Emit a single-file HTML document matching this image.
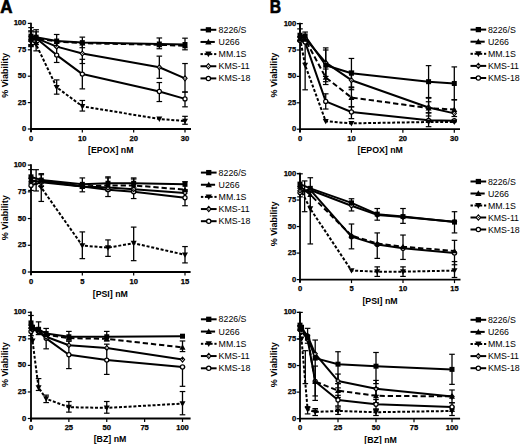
<!DOCTYPE html>
<html><head><meta charset="utf-8"><style>
html,body{margin:0;padding:0;background:#fff;}
svg{display:block;}
text{font-family:"Liberation Sans", sans-serif;fill:#000;}
.tk{font-size:7.6px;font-weight:bold;stroke:#000;stroke-width:0.25px;}
.ti{font-size:8.8px;font-weight:bold;}
.yl{font-size:9px;font-weight:bold;}
.lg{font-size:8.8px;}
.pl{font-size:16px;font-weight:bold;stroke:#000;stroke-width:0.6px;}
</style></head><body>
<svg width="520" height="444" viewBox="0 0 520 444">
<rect width="520" height="444" fill="#fff"/>
<text transform="translate(0.2,12.7) scale(1.06,1.1)" class="pl">A</text>
<text transform="translate(269.7,12.7) scale(0.98,1.1)" class="pl">B</text>
<line x1="31.00" y1="22.65" x2="31.00" y2="132.00" stroke="#000" stroke-width="1.8"/>
<line x1="30.25" y1="129.00" x2="191.00" y2="129.00" stroke="#000" stroke-width="1.8"/>
<line x1="27.80" y1="129.00" x2="31.00" y2="129.00" stroke="#000" stroke-width="1.2"/>
<text x="26.30" y="131.00" text-anchor="end" class="tk">0</text>
<line x1="27.80" y1="102.60" x2="31.00" y2="102.60" stroke="#000" stroke-width="1.2"/>
<text x="26.30" y="104.60" text-anchor="end" class="tk">25</text>
<line x1="27.80" y1="76.20" x2="31.00" y2="76.20" stroke="#000" stroke-width="1.2"/>
<text x="26.30" y="78.20" text-anchor="end" class="tk">50</text>
<line x1="27.80" y1="49.80" x2="31.00" y2="49.80" stroke="#000" stroke-width="1.2"/>
<text x="26.30" y="51.80" text-anchor="end" class="tk">75</text>
<line x1="27.80" y1="23.40" x2="31.00" y2="23.40" stroke="#000" stroke-width="1.2"/>
<text x="26.30" y="25.40" text-anchor="end" class="tk">100</text>
<line x1="31.00" y1="129.00" x2="31.00" y2="132.50" stroke="#000" stroke-width="1.2"/>
<text x="31.00" y="140.50" text-anchor="middle" class="tk">0</text>
<line x1="82.33" y1="129.00" x2="82.33" y2="132.50" stroke="#000" stroke-width="1.2"/>
<text x="82.33" y="140.50" text-anchor="middle" class="tk">10</text>
<line x1="133.67" y1="129.00" x2="133.67" y2="132.50" stroke="#000" stroke-width="1.2"/>
<text x="133.67" y="140.50" text-anchor="middle" class="tk">20</text>
<line x1="185.00" y1="129.00" x2="185.00" y2="132.50" stroke="#000" stroke-width="1.2"/>
<text x="185.00" y="140.50" text-anchor="middle" class="tk">30</text>
<text x="110.75" y="153.00" text-anchor="middle" class="ti">[EPOX] nM</text>
<text transform="translate(8.00,75.40) rotate(-90)" text-anchor="middle" class="yl">% Viability</text>
<line x1="31.00" y1="27.62" x2="31.00" y2="44.52" stroke="#000" stroke-width="1.3"/>
<line x1="28.20" y1="27.62" x2="33.80" y2="27.62" stroke="#000" stroke-width="1.2"/>
<line x1="28.20" y1="44.52" x2="33.80" y2="44.52" stroke="#000" stroke-width="1.2"/>
<line x1="36.13" y1="29.74" x2="36.13" y2="42.41" stroke="#000" stroke-width="1.3"/>
<line x1="33.33" y1="29.74" x2="38.93" y2="29.74" stroke="#000" stroke-width="1.2"/>
<line x1="33.33" y1="42.41" x2="38.93" y2="42.41" stroke="#000" stroke-width="1.2"/>
<line x1="56.67" y1="34.49" x2="56.67" y2="46.63" stroke="#000" stroke-width="1.3"/>
<line x1="53.87" y1="34.49" x2="59.47" y2="34.49" stroke="#000" stroke-width="1.2"/>
<line x1="53.87" y1="46.63" x2="59.47" y2="46.63" stroke="#000" stroke-width="1.2"/>
<line x1="82.33" y1="37.13" x2="82.33" y2="47.69" stroke="#000" stroke-width="1.3"/>
<line x1="79.53" y1="37.13" x2="85.13" y2="37.13" stroke="#000" stroke-width="1.2"/>
<line x1="79.53" y1="47.69" x2="85.13" y2="47.69" stroke="#000" stroke-width="1.2"/>
<line x1="159.33" y1="37.97" x2="159.33" y2="48.74" stroke="#000" stroke-width="1.3"/>
<line x1="156.53" y1="37.97" x2="162.13" y2="37.97" stroke="#000" stroke-width="1.2"/>
<line x1="156.53" y1="48.74" x2="162.13" y2="48.74" stroke="#000" stroke-width="1.2"/>
<line x1="185.00" y1="38.18" x2="185.00" y2="49.80" stroke="#000" stroke-width="1.3"/>
<line x1="182.20" y1="38.18" x2="187.80" y2="38.18" stroke="#000" stroke-width="1.2"/>
<line x1="182.20" y1="49.80" x2="187.80" y2="49.80" stroke="#000" stroke-width="1.2"/>
<line x1="31.00" y1="31.85" x2="31.00" y2="46.63" stroke="#000" stroke-width="1.3"/>
<line x1="28.20" y1="31.85" x2="33.80" y2="31.85" stroke="#000" stroke-width="1.2"/>
<line x1="28.20" y1="46.63" x2="33.80" y2="46.63" stroke="#000" stroke-width="1.2"/>
<line x1="36.13" y1="31.85" x2="36.13" y2="44.52" stroke="#000" stroke-width="1.3"/>
<line x1="33.33" y1="31.85" x2="38.93" y2="31.85" stroke="#000" stroke-width="1.2"/>
<line x1="33.33" y1="44.52" x2="38.93" y2="44.52" stroke="#000" stroke-width="1.2"/>
<line x1="31.00" y1="30.79" x2="31.00" y2="45.58" stroke="#000" stroke-width="1.3"/>
<line x1="28.20" y1="30.79" x2="33.80" y2="30.79" stroke="#000" stroke-width="1.2"/>
<line x1="28.20" y1="45.58" x2="33.80" y2="45.58" stroke="#000" stroke-width="1.2"/>
<line x1="36.13" y1="38.18" x2="36.13" y2="50.86" stroke="#000" stroke-width="1.3"/>
<line x1="33.33" y1="38.18" x2="38.93" y2="38.18" stroke="#000" stroke-width="1.2"/>
<line x1="33.33" y1="50.86" x2="38.93" y2="50.86" stroke="#000" stroke-width="1.2"/>
<line x1="56.67" y1="79.90" x2="56.67" y2="94.15" stroke="#000" stroke-width="1.3"/>
<line x1="53.87" y1="79.90" x2="59.47" y2="79.90" stroke="#000" stroke-width="1.2"/>
<line x1="53.87" y1="94.15" x2="59.47" y2="94.15" stroke="#000" stroke-width="1.2"/>
<line x1="82.33" y1="100.49" x2="82.33" y2="111.05" stroke="#000" stroke-width="1.3"/>
<line x1="79.53" y1="100.49" x2="85.13" y2="100.49" stroke="#000" stroke-width="1.2"/>
<line x1="79.53" y1="111.05" x2="85.13" y2="111.05" stroke="#000" stroke-width="1.2"/>
<line x1="185.00" y1="116.33" x2="185.00" y2="124.25" stroke="#000" stroke-width="1.3"/>
<line x1="182.20" y1="116.33" x2="187.80" y2="116.33" stroke="#000" stroke-width="1.2"/>
<line x1="182.20" y1="124.25" x2="187.80" y2="124.25" stroke="#000" stroke-width="1.2"/>
<line x1="82.33" y1="43.46" x2="82.33" y2="63.53" stroke="#000" stroke-width="1.3"/>
<line x1="79.53" y1="43.46" x2="85.13" y2="43.46" stroke="#000" stroke-width="1.2"/>
<line x1="79.53" y1="63.53" x2="85.13" y2="63.53" stroke="#000" stroke-width="1.2"/>
<line x1="159.33" y1="56.14" x2="159.33" y2="78.31" stroke="#000" stroke-width="1.3"/>
<line x1="156.53" y1="56.14" x2="162.13" y2="56.14" stroke="#000" stroke-width="1.2"/>
<line x1="156.53" y1="78.31" x2="162.13" y2="78.31" stroke="#000" stroke-width="1.2"/>
<line x1="185.00" y1="63.53" x2="185.00" y2="92.04" stroke="#000" stroke-width="1.3"/>
<line x1="182.20" y1="63.53" x2="187.80" y2="63.53" stroke="#000" stroke-width="1.2"/>
<line x1="182.20" y1="92.04" x2="187.80" y2="92.04" stroke="#000" stroke-width="1.2"/>
<line x1="56.67" y1="46.63" x2="56.67" y2="62.47" stroke="#000" stroke-width="1.3"/>
<line x1="53.87" y1="46.63" x2="59.47" y2="46.63" stroke="#000" stroke-width="1.2"/>
<line x1="53.87" y1="62.47" x2="59.47" y2="62.47" stroke="#000" stroke-width="1.2"/>
<line x1="82.33" y1="59.30" x2="82.33" y2="88.87" stroke="#000" stroke-width="1.3"/>
<line x1="79.53" y1="59.30" x2="85.13" y2="59.30" stroke="#000" stroke-width="1.2"/>
<line x1="79.53" y1="88.87" x2="85.13" y2="88.87" stroke="#000" stroke-width="1.2"/>
<line x1="159.33" y1="82.54" x2="159.33" y2="101.54" stroke="#000" stroke-width="1.3"/>
<line x1="156.53" y1="82.54" x2="162.13" y2="82.54" stroke="#000" stroke-width="1.2"/>
<line x1="156.53" y1="101.54" x2="162.13" y2="101.54" stroke="#000" stroke-width="1.2"/>
<line x1="185.00" y1="92.04" x2="185.00" y2="106.82" stroke="#000" stroke-width="1.3"/>
<line x1="182.20" y1="92.04" x2="187.80" y2="92.04" stroke="#000" stroke-width="1.2"/>
<line x1="182.20" y1="106.82" x2="187.80" y2="106.82" stroke="#000" stroke-width="1.2"/>
<polyline points="31.00,36.07 36.13,37.13 56.67,41.04 82.33,42.62 159.33,43.99 185.00,44.52" fill="none" stroke="#000" stroke-width="2.0" stroke-linejoin="round"/>
<polyline points="31.00,39.24 36.13,38.18 56.67,41.56 82.33,43.15 159.33,44.84 185.00,45.79" fill="none" stroke="#000" stroke-width="2.0" stroke-dasharray="5.3,2.9" stroke-linejoin="round"/>
<polyline points="31.00,38.18 36.13,44.52 56.67,87.29 82.33,106.30 159.33,118.97 185.00,121.08" fill="none" stroke="#000" stroke-width="2.0" stroke-dasharray="3,1.8" stroke-linejoin="round"/>
<polyline points="31.00,39.24 36.13,38.18 56.67,46.63 82.33,53.50 159.33,67.22 185.00,78.31" fill="none" stroke="#000" stroke-width="2.0" stroke-linejoin="round"/>
<polyline points="31.00,40.30 36.13,38.18 56.67,55.08 82.33,74.09 159.33,91.51 185.00,98.90" fill="none" stroke="#000" stroke-width="2.0" stroke-linejoin="round"/>
<circle cx="31.00" cy="40.30" r="2.05" fill="#fff" stroke="#000" stroke-width="1.25"/>
<circle cx="36.13" cy="38.18" r="2.05" fill="#fff" stroke="#000" stroke-width="1.25"/>
<circle cx="56.67" cy="55.08" r="2.05" fill="#fff" stroke="#000" stroke-width="1.25"/>
<circle cx="82.33" cy="74.09" r="2.05" fill="#fff" stroke="#000" stroke-width="1.25"/>
<circle cx="159.33" cy="91.51" r="2.05" fill="#fff" stroke="#000" stroke-width="1.25"/>
<circle cx="185.00" cy="98.90" r="2.05" fill="#fff" stroke="#000" stroke-width="1.25"/>
<polygon points="31.00,36.79 33.08,39.24 31.00,41.69 28.92,39.24" fill="#fff" stroke="#000" stroke-width="1.15"/><circle cx="31.00" cy="39.24" r="0.6" fill="#000"/>
<polygon points="36.13,35.73 38.22,38.18 36.13,40.63 34.05,38.18" fill="#fff" stroke="#000" stroke-width="1.15"/><circle cx="36.13" cy="38.18" r="0.6" fill="#000"/>
<polygon points="56.67,44.18 58.75,46.63 56.67,49.08 54.58,46.63" fill="#fff" stroke="#000" stroke-width="1.15"/><circle cx="56.67" cy="46.63" r="0.6" fill="#000"/>
<polygon points="82.33,51.05 84.42,53.50 82.33,55.95 80.25,53.50" fill="#fff" stroke="#000" stroke-width="1.15"/><circle cx="82.33" cy="53.50" r="0.6" fill="#000"/>
<polygon points="159.33,64.77 161.42,67.22 159.33,69.67 157.25,67.22" fill="#fff" stroke="#000" stroke-width="1.15"/><circle cx="159.33" cy="67.22" r="0.6" fill="#000"/>
<polygon points="185.00,75.86 187.08,78.31 185.00,80.76 182.92,78.31" fill="#fff" stroke="#000" stroke-width="1.15"/><circle cx="185.00" cy="78.31" r="0.6" fill="#000"/>
<polygon points="31.00,41.18 34.00,35.78 28.00,35.78" fill="#000"/>
<polygon points="36.13,47.52 39.13,42.12 33.13,42.12" fill="#000"/>
<polygon points="56.67,90.29 59.67,84.89 53.67,84.89" fill="#000"/>
<polygon points="82.33,109.30 85.33,103.90 79.33,103.90" fill="#000"/>
<polygon points="159.33,121.97 162.33,116.57 156.33,116.57" fill="#000"/>
<polygon points="185.00,124.08 188.00,118.68 182.00,118.68" fill="#000"/>
<polygon points="31.00,36.24 34.00,41.64 28.00,41.64" fill="#000"/>
<polygon points="36.13,35.18 39.13,40.58 33.13,40.58" fill="#000"/>
<polygon points="56.67,38.56 59.67,43.96 53.67,43.96" fill="#000"/>
<polygon points="82.33,40.15 85.33,45.55 79.33,45.55" fill="#000"/>
<polygon points="159.33,41.84 162.33,47.24 156.33,47.24" fill="#000"/>
<polygon points="185.00,42.79 188.00,48.19 182.00,48.19" fill="#000"/>
<rect x="28.50" y="33.57" width="5.00" height="5.00" fill="#000"/>
<rect x="33.63" y="34.63" width="5.00" height="5.00" fill="#000"/>
<rect x="54.17" y="38.54" width="5.00" height="5.00" fill="#000"/>
<rect x="79.83" y="40.12" width="5.00" height="5.00" fill="#000"/>
<rect x="156.83" y="41.49" width="5.00" height="5.00" fill="#000"/>
<rect x="182.50" y="42.02" width="5.00" height="5.00" fill="#000"/>
<line x1="200.50" y1="29.80" x2="216.30" y2="29.80" stroke="#000" stroke-width="2.0"/>
<rect x="205.78" y="27.18" width="5.25" height="5.25" fill="#000"/>
<text x="218.60" y="32.80" class="lg">8226/S</text>
<line x1="200.50" y1="41.95" x2="214.80" y2="41.95" stroke="#000" stroke-width="2.0"/>
<polygon points="208.40,38.80 211.55,44.47 205.25,44.47" fill="#000"/>
<text x="218.60" y="44.95" class="lg">U266</text>
<line x1="200.50" y1="54.10" x2="202.90" y2="54.10" stroke="#000" stroke-width="2.0"/>
<line x1="204.50" y1="54.10" x2="212.30" y2="54.10" stroke="#000" stroke-width="2.0"/>
<line x1="214.10" y1="54.10" x2="216.30" y2="54.10" stroke="#000" stroke-width="2.0"/>
<polygon points="208.40,57.25 211.55,51.58 205.25,51.58" fill="#000"/>
<text x="218.60" y="57.10" class="lg">MM.1S</text>
<line x1="200.50" y1="66.25" x2="216.30" y2="66.25" stroke="#000" stroke-width="2.0"/>
<polygon points="208.40,63.68 210.59,66.25 208.40,68.82 206.21,66.25" fill="#fff" stroke="#000" stroke-width="1.15"/><circle cx="208.40" cy="66.25" r="0.6" fill="#000"/>
<text x="218.60" y="69.25" class="lg">KMS-11</text>
<line x1="200.50" y1="78.40" x2="216.30" y2="78.40" stroke="#000" stroke-width="2.0"/>
<circle cx="208.40" cy="78.40" r="2.15" fill="#fff" stroke="#000" stroke-width="1.25"/>
<text x="218.60" y="81.40" class="lg">KMS-18</text>
<line x1="31.00" y1="164.35" x2="31.00" y2="275.00" stroke="#000" stroke-width="1.8"/>
<line x1="30.25" y1="272.00" x2="190.60" y2="272.00" stroke="#000" stroke-width="1.8"/>
<line x1="27.80" y1="272.00" x2="31.00" y2="272.00" stroke="#000" stroke-width="1.2"/>
<text x="26.30" y="274.00" text-anchor="end" class="tk">0</text>
<line x1="27.80" y1="245.28" x2="31.00" y2="245.28" stroke="#000" stroke-width="1.2"/>
<text x="26.30" y="247.28" text-anchor="end" class="tk">25</text>
<line x1="27.80" y1="218.55" x2="31.00" y2="218.55" stroke="#000" stroke-width="1.2"/>
<text x="26.30" y="220.55" text-anchor="end" class="tk">50</text>
<line x1="27.80" y1="191.82" x2="31.00" y2="191.82" stroke="#000" stroke-width="1.2"/>
<text x="26.30" y="193.82" text-anchor="end" class="tk">75</text>
<line x1="27.80" y1="165.10" x2="31.00" y2="165.10" stroke="#000" stroke-width="1.2"/>
<text x="26.30" y="167.10" text-anchor="end" class="tk">100</text>
<line x1="31.00" y1="272.00" x2="31.00" y2="275.50" stroke="#000" stroke-width="1.2"/>
<text x="31.00" y="283.50" text-anchor="middle" class="tk">0</text>
<line x1="82.33" y1="272.00" x2="82.33" y2="275.50" stroke="#000" stroke-width="1.2"/>
<text x="82.33" y="283.50" text-anchor="middle" class="tk">5</text>
<line x1="133.67" y1="272.00" x2="133.67" y2="275.50" stroke="#000" stroke-width="1.2"/>
<text x="133.67" y="283.50" text-anchor="middle" class="tk">10</text>
<line x1="185.00" y1="272.00" x2="185.00" y2="275.50" stroke="#000" stroke-width="1.2"/>
<text x="185.00" y="283.50" text-anchor="middle" class="tk">15</text>
<text x="110.30" y="296.50" text-anchor="middle" class="ti">[PSI] nM</text>
<text transform="translate(8.00,217.75) rotate(-90)" text-anchor="middle" class="yl">% Viability</text>
<line x1="31.00" y1="169.59" x2="31.00" y2="190.44" stroke="#000" stroke-width="1.3"/>
<line x1="28.20" y1="169.59" x2="33.80" y2="169.59" stroke="#000" stroke-width="1.2"/>
<line x1="28.20" y1="190.44" x2="33.80" y2="190.44" stroke="#000" stroke-width="1.2"/>
<line x1="41.27" y1="173.65" x2="41.27" y2="186.48" stroke="#000" stroke-width="1.3"/>
<line x1="38.47" y1="173.65" x2="44.07" y2="173.65" stroke="#000" stroke-width="1.2"/>
<line x1="38.47" y1="186.48" x2="44.07" y2="186.48" stroke="#000" stroke-width="1.2"/>
<line x1="82.33" y1="177.93" x2="82.33" y2="191.82" stroke="#000" stroke-width="1.3"/>
<line x1="79.53" y1="177.93" x2="85.13" y2="177.93" stroke="#000" stroke-width="1.2"/>
<line x1="79.53" y1="191.82" x2="85.13" y2="191.82" stroke="#000" stroke-width="1.2"/>
<line x1="108.00" y1="176.86" x2="108.00" y2="190.76" stroke="#000" stroke-width="1.3"/>
<line x1="105.20" y1="176.86" x2="110.80" y2="176.86" stroke="#000" stroke-width="1.2"/>
<line x1="105.20" y1="190.76" x2="110.80" y2="190.76" stroke="#000" stroke-width="1.2"/>
<line x1="133.67" y1="177.93" x2="133.67" y2="190.76" stroke="#000" stroke-width="1.3"/>
<line x1="130.87" y1="177.93" x2="136.47" y2="177.93" stroke="#000" stroke-width="1.2"/>
<line x1="130.87" y1="190.76" x2="136.47" y2="190.76" stroke="#000" stroke-width="1.2"/>
<line x1="185.00" y1="181.67" x2="185.00" y2="189.69" stroke="#000" stroke-width="1.3"/>
<line x1="182.20" y1="181.67" x2="187.80" y2="181.67" stroke="#000" stroke-width="1.2"/>
<line x1="182.20" y1="189.69" x2="187.80" y2="189.69" stroke="#000" stroke-width="1.2"/>
<line x1="41.27" y1="174.72" x2="41.27" y2="201.45" stroke="#000" stroke-width="1.3"/>
<line x1="38.47" y1="174.72" x2="44.07" y2="174.72" stroke="#000" stroke-width="1.2"/>
<line x1="38.47" y1="201.45" x2="44.07" y2="201.45" stroke="#000" stroke-width="1.2"/>
<line x1="82.33" y1="231.91" x2="82.33" y2="258.64" stroke="#000" stroke-width="1.3"/>
<line x1="79.53" y1="231.91" x2="85.13" y2="231.91" stroke="#000" stroke-width="1.2"/>
<line x1="79.53" y1="258.64" x2="85.13" y2="258.64" stroke="#000" stroke-width="1.2"/>
<line x1="108.00" y1="239.93" x2="108.00" y2="256.39" stroke="#000" stroke-width="1.3"/>
<line x1="105.20" y1="239.93" x2="110.80" y2="239.93" stroke="#000" stroke-width="1.2"/>
<line x1="105.20" y1="256.39" x2="110.80" y2="256.39" stroke="#000" stroke-width="1.2"/>
<line x1="133.67" y1="227.10" x2="133.67" y2="260.67" stroke="#000" stroke-width="1.3"/>
<line x1="130.87" y1="227.10" x2="136.47" y2="227.10" stroke="#000" stroke-width="1.2"/>
<line x1="130.87" y1="260.67" x2="136.47" y2="260.67" stroke="#000" stroke-width="1.2"/>
<line x1="185.00" y1="246.56" x2="185.00" y2="262.91" stroke="#000" stroke-width="1.3"/>
<line x1="182.20" y1="246.56" x2="187.80" y2="246.56" stroke="#000" stroke-width="1.2"/>
<line x1="182.20" y1="262.91" x2="187.80" y2="262.91" stroke="#000" stroke-width="1.2"/>
<line x1="108.00" y1="177.93" x2="108.00" y2="196.53" stroke="#000" stroke-width="1.3"/>
<line x1="105.20" y1="177.93" x2="110.80" y2="177.93" stroke="#000" stroke-width="1.2"/>
<line x1="105.20" y1="196.53" x2="110.80" y2="196.53" stroke="#000" stroke-width="1.2"/>
<line x1="133.67" y1="179.00" x2="133.67" y2="198.56" stroke="#000" stroke-width="1.3"/>
<line x1="130.87" y1="179.00" x2="136.47" y2="179.00" stroke="#000" stroke-width="1.2"/>
<line x1="130.87" y1="198.56" x2="136.47" y2="198.56" stroke="#000" stroke-width="1.2"/>
<line x1="185.00" y1="190.76" x2="185.00" y2="205.72" stroke="#000" stroke-width="1.3"/>
<line x1="182.20" y1="190.76" x2="187.80" y2="190.76" stroke="#000" stroke-width="1.2"/>
<line x1="182.20" y1="205.72" x2="187.80" y2="205.72" stroke="#000" stroke-width="1.2"/>
<line x1="36.13" y1="169.70" x2="36.13" y2="190.97" stroke="#000" stroke-width="1.3"/>
<line x1="33.33" y1="169.70" x2="38.93" y2="169.70" stroke="#000" stroke-width="1.2"/>
<line x1="33.33" y1="190.97" x2="38.93" y2="190.97" stroke="#000" stroke-width="1.2"/>
<polyline points="31.00,176.86 41.27,180.07 82.33,184.34 108.00,183.27 133.67,183.27 185.00,184.34" fill="none" stroke="#000" stroke-width="2.0" stroke-linejoin="round"/>
<polyline points="31.00,181.13 41.27,180.07 82.33,186.48 108.00,185.41 133.67,185.41 185.00,189.69" fill="none" stroke="#000" stroke-width="2.0" stroke-dasharray="5.3,2.9" stroke-linejoin="round"/>
<polyline points="31.00,180.07 41.27,187.55 82.33,245.60 108.00,247.63 133.67,243.24 185.00,254.79" fill="none" stroke="#000" stroke-width="2.0" stroke-dasharray="3,1.8" stroke-linejoin="round"/>
<polyline points="31.00,181.13 41.27,181.13 82.33,186.48 108.00,187.55 133.67,189.15 185.00,192.89" fill="none" stroke="#000" stroke-width="2.0" stroke-linejoin="round"/>
<polyline points="31.00,185.41 41.27,182.20 82.33,186.48 108.00,189.69 133.67,191.82 185.00,197.70" fill="none" stroke="#000" stroke-width="2.0" stroke-linejoin="round"/>
<circle cx="31.00" cy="185.41" r="2.05" fill="#fff" stroke="#000" stroke-width="1.25"/>
<circle cx="41.27" cy="182.20" r="2.05" fill="#fff" stroke="#000" stroke-width="1.25"/>
<circle cx="82.33" cy="186.48" r="2.05" fill="#fff" stroke="#000" stroke-width="1.25"/>
<circle cx="108.00" cy="189.69" r="2.05" fill="#fff" stroke="#000" stroke-width="1.25"/>
<circle cx="133.67" cy="191.82" r="2.05" fill="#fff" stroke="#000" stroke-width="1.25"/>
<circle cx="185.00" cy="197.70" r="2.05" fill="#fff" stroke="#000" stroke-width="1.25"/>
<polygon points="31.00,178.69 33.08,181.13 31.00,183.58 28.92,181.13" fill="#fff" stroke="#000" stroke-width="1.15"/><circle cx="31.00" cy="181.13" r="0.6" fill="#000"/>
<polygon points="41.27,178.69 43.35,181.13 41.27,183.58 39.18,181.13" fill="#fff" stroke="#000" stroke-width="1.15"/><circle cx="41.27" cy="181.13" r="0.6" fill="#000"/>
<polygon points="82.33,184.03 84.42,186.48 82.33,188.93 80.25,186.48" fill="#fff" stroke="#000" stroke-width="1.15"/><circle cx="82.33" cy="186.48" r="0.6" fill="#000"/>
<polygon points="108.00,185.10 110.08,187.55 108.00,190.00 105.92,187.55" fill="#fff" stroke="#000" stroke-width="1.15"/><circle cx="108.00" cy="187.55" r="0.6" fill="#000"/>
<polygon points="133.67,186.70 135.75,189.15 133.67,191.60 131.58,189.15" fill="#fff" stroke="#000" stroke-width="1.15"/><circle cx="133.67" cy="189.15" r="0.6" fill="#000"/>
<polygon points="185.00,190.44 187.08,192.89 185.00,195.34 182.92,192.89" fill="#fff" stroke="#000" stroke-width="1.15"/><circle cx="185.00" cy="192.89" r="0.6" fill="#000"/>
<polygon points="31.00,183.07 34.00,177.67 28.00,177.67" fill="#000"/>
<polygon points="41.27,190.55 44.27,185.15 38.27,185.15" fill="#000"/>
<polygon points="82.33,248.60 85.33,243.20 79.33,243.20" fill="#000"/>
<polygon points="108.00,250.63 111.00,245.23 105.00,245.23" fill="#000"/>
<polygon points="133.67,246.24 136.67,240.84 130.67,240.84" fill="#000"/>
<polygon points="185.00,257.79 188.00,252.39 182.00,252.39" fill="#000"/>
<polygon points="31.00,178.13 34.00,183.53 28.00,183.53" fill="#000"/>
<polygon points="41.27,177.07 44.27,182.47 38.27,182.47" fill="#000"/>
<polygon points="82.33,183.48 85.33,188.88 79.33,188.88" fill="#000"/>
<polygon points="108.00,182.41 111.00,187.81 105.00,187.81" fill="#000"/>
<polygon points="133.67,182.41 136.67,187.81 130.67,187.81" fill="#000"/>
<polygon points="185.00,186.69 188.00,192.09 182.00,192.09" fill="#000"/>
<rect x="28.50" y="174.36" width="5.00" height="5.00" fill="#000"/>
<rect x="38.77" y="177.57" width="5.00" height="5.00" fill="#000"/>
<rect x="79.83" y="181.84" width="5.00" height="5.00" fill="#000"/>
<rect x="105.50" y="180.77" width="5.00" height="5.00" fill="#000"/>
<rect x="131.17" y="180.77" width="5.00" height="5.00" fill="#000"/>
<rect x="182.50" y="181.84" width="5.00" height="5.00" fill="#000"/>
<line x1="200.90" y1="172.60" x2="216.60" y2="172.60" stroke="#000" stroke-width="2.0"/>
<rect x="206.12" y="169.97" width="5.25" height="5.25" fill="#000"/>
<text x="218.60" y="175.60" class="lg">8226/S</text>
<line x1="200.90" y1="184.75" x2="215.10" y2="184.75" stroke="#000" stroke-width="2.0"/>
<polygon points="208.75,181.60 211.90,187.27 205.60,187.27" fill="#000"/>
<text x="218.60" y="187.75" class="lg">U266</text>
<line x1="200.90" y1="196.90" x2="203.30" y2="196.90" stroke="#000" stroke-width="2.0"/>
<line x1="204.90" y1="196.90" x2="212.60" y2="196.90" stroke="#000" stroke-width="2.0"/>
<line x1="214.40" y1="196.90" x2="216.60" y2="196.90" stroke="#000" stroke-width="2.0"/>
<polygon points="208.75,200.05 211.90,194.38 205.60,194.38" fill="#000"/>
<text x="218.60" y="199.90" class="lg">MM.1S</text>
<line x1="200.90" y1="209.05" x2="216.60" y2="209.05" stroke="#000" stroke-width="2.0"/>
<polygon points="208.75,206.48 210.94,209.05 208.75,211.62 206.56,209.05" fill="#fff" stroke="#000" stroke-width="1.15"/><circle cx="208.75" cy="209.05" r="0.6" fill="#000"/>
<text x="218.60" y="212.05" class="lg">KMS-11</text>
<line x1="200.90" y1="221.20" x2="216.60" y2="221.20" stroke="#000" stroke-width="2.0"/>
<circle cx="208.75" cy="221.20" r="2.15" fill="#fff" stroke="#000" stroke-width="1.25"/>
<text x="218.60" y="224.20" class="lg">KMS-18</text>
<line x1="31.00" y1="311.55" x2="31.00" y2="421.50" stroke="#000" stroke-width="1.8"/>
<line x1="30.25" y1="418.50" x2="190.60" y2="418.50" stroke="#000" stroke-width="1.8"/>
<line x1="27.80" y1="418.50" x2="31.00" y2="418.50" stroke="#000" stroke-width="1.2"/>
<text x="26.30" y="420.50" text-anchor="end" class="tk">0</text>
<line x1="27.80" y1="391.95" x2="31.00" y2="391.95" stroke="#000" stroke-width="1.2"/>
<text x="26.30" y="393.95" text-anchor="end" class="tk">25</text>
<line x1="27.80" y1="365.40" x2="31.00" y2="365.40" stroke="#000" stroke-width="1.2"/>
<text x="26.30" y="367.40" text-anchor="end" class="tk">50</text>
<line x1="27.80" y1="338.85" x2="31.00" y2="338.85" stroke="#000" stroke-width="1.2"/>
<text x="26.30" y="340.85" text-anchor="end" class="tk">75</text>
<line x1="27.80" y1="312.30" x2="31.00" y2="312.30" stroke="#000" stroke-width="1.2"/>
<text x="26.30" y="314.30" text-anchor="end" class="tk">100</text>
<line x1="31.00" y1="418.50" x2="31.00" y2="422.00" stroke="#000" stroke-width="1.2"/>
<text x="31.00" y="430.00" text-anchor="middle" class="tk">0</text>
<line x1="68.88" y1="418.50" x2="68.88" y2="422.00" stroke="#000" stroke-width="1.2"/>
<text x="68.88" y="430.00" text-anchor="middle" class="tk">25</text>
<line x1="106.75" y1="418.50" x2="106.75" y2="422.00" stroke="#000" stroke-width="1.2"/>
<text x="106.75" y="430.00" text-anchor="middle" class="tk">50</text>
<line x1="144.62" y1="418.50" x2="144.62" y2="422.00" stroke="#000" stroke-width="1.2"/>
<text x="144.62" y="430.00" text-anchor="middle" class="tk">75</text>
<line x1="182.50" y1="418.50" x2="182.50" y2="422.00" stroke="#000" stroke-width="1.2"/>
<text x="182.50" y="430.00" text-anchor="middle" class="tk">100</text>
<text x="110.00" y="442.00" text-anchor="middle" class="ti">[BZ] nM</text>
<text transform="translate(8.00,364.60) rotate(-90)" text-anchor="middle" class="yl">% Viability</text>
<line x1="31.00" y1="315.49" x2="31.00" y2="335.66" stroke="#000" stroke-width="1.3"/>
<line x1="28.20" y1="315.49" x2="33.80" y2="315.49" stroke="#000" stroke-width="1.2"/>
<line x1="28.20" y1="335.66" x2="33.80" y2="335.66" stroke="#000" stroke-width="1.2"/>
<line x1="38.58" y1="321.86" x2="38.58" y2="334.60" stroke="#000" stroke-width="1.3"/>
<line x1="35.78" y1="321.86" x2="41.38" y2="321.86" stroke="#000" stroke-width="1.2"/>
<line x1="35.78" y1="334.60" x2="41.38" y2="334.60" stroke="#000" stroke-width="1.2"/>
<line x1="68.88" y1="331.42" x2="68.88" y2="339.91" stroke="#000" stroke-width="1.3"/>
<line x1="66.08" y1="331.42" x2="71.67" y2="331.42" stroke="#000" stroke-width="1.2"/>
<line x1="66.08" y1="339.91" x2="71.67" y2="339.91" stroke="#000" stroke-width="1.2"/>
<line x1="106.75" y1="331.42" x2="106.75" y2="340.97" stroke="#000" stroke-width="1.3"/>
<line x1="103.95" y1="331.42" x2="109.55" y2="331.42" stroke="#000" stroke-width="1.2"/>
<line x1="103.95" y1="340.97" x2="109.55" y2="340.97" stroke="#000" stroke-width="1.2"/>
<line x1="182.50" y1="340.97" x2="182.50" y2="351.59" stroke="#000" stroke-width="1.3"/>
<line x1="179.70" y1="340.97" x2="185.30" y2="340.97" stroke="#000" stroke-width="1.2"/>
<line x1="179.70" y1="351.59" x2="185.30" y2="351.59" stroke="#000" stroke-width="1.2"/>
<line x1="38.58" y1="378.57" x2="38.58" y2="390.46" stroke="#000" stroke-width="1.3"/>
<line x1="35.78" y1="378.57" x2="41.38" y2="378.57" stroke="#000" stroke-width="1.2"/>
<line x1="35.78" y1="390.46" x2="41.38" y2="390.46" stroke="#000" stroke-width="1.2"/>
<line x1="46.15" y1="395.14" x2="46.15" y2="402.57" stroke="#000" stroke-width="1.3"/>
<line x1="43.35" y1="395.14" x2="48.95" y2="395.14" stroke="#000" stroke-width="1.2"/>
<line x1="43.35" y1="402.57" x2="48.95" y2="402.57" stroke="#000" stroke-width="1.2"/>
<line x1="68.88" y1="401.51" x2="68.88" y2="412.13" stroke="#000" stroke-width="1.3"/>
<line x1="66.08" y1="401.51" x2="71.67" y2="401.51" stroke="#000" stroke-width="1.2"/>
<line x1="66.08" y1="412.13" x2="71.67" y2="412.13" stroke="#000" stroke-width="1.2"/>
<line x1="106.75" y1="401.51" x2="106.75" y2="413.19" stroke="#000" stroke-width="1.3"/>
<line x1="103.95" y1="401.51" x2="109.55" y2="401.51" stroke="#000" stroke-width="1.2"/>
<line x1="103.95" y1="413.19" x2="109.55" y2="413.19" stroke="#000" stroke-width="1.2"/>
<line x1="182.50" y1="391.53" x2="182.50" y2="414.78" stroke="#000" stroke-width="1.3"/>
<line x1="179.70" y1="391.53" x2="185.30" y2="391.53" stroke="#000" stroke-width="1.2"/>
<line x1="179.70" y1="414.78" x2="185.30" y2="414.78" stroke="#000" stroke-width="1.2"/>
<line x1="46.15" y1="328.44" x2="46.15" y2="348.83" stroke="#000" stroke-width="1.3"/>
<line x1="43.35" y1="328.44" x2="48.95" y2="328.44" stroke="#000" stroke-width="1.2"/>
<line x1="43.35" y1="348.83" x2="48.95" y2="348.83" stroke="#000" stroke-width="1.2"/>
<line x1="68.88" y1="341.29" x2="68.88" y2="368.59" stroke="#000" stroke-width="1.3"/>
<line x1="66.08" y1="341.29" x2="71.67" y2="341.29" stroke="#000" stroke-width="1.2"/>
<line x1="66.08" y1="368.59" x2="71.67" y2="368.59" stroke="#000" stroke-width="1.2"/>
<line x1="106.75" y1="344.16" x2="106.75" y2="374.43" stroke="#000" stroke-width="1.3"/>
<line x1="103.95" y1="344.16" x2="109.55" y2="344.16" stroke="#000" stroke-width="1.2"/>
<line x1="103.95" y1="374.43" x2="109.55" y2="374.43" stroke="#000" stroke-width="1.2"/>
<line x1="182.50" y1="366.99" x2="182.50" y2="386.32" stroke="#000" stroke-width="1.3"/>
<line x1="179.70" y1="366.99" x2="185.30" y2="366.99" stroke="#000" stroke-width="1.2"/>
<line x1="179.70" y1="386.32" x2="185.30" y2="386.32" stroke="#000" stroke-width="1.2"/>
<polyline points="31.00,322.92 32.52,327.17 38.58,329.29 46.15,333.54 68.88,336.73 106.75,336.73 182.50,336.19" fill="none" stroke="#000" stroke-width="2.0" stroke-linejoin="round"/>
<polyline points="31.00,326.11 32.52,328.23 38.58,330.35 46.15,334.60 68.88,338.11 106.75,338.85 182.50,347.35" fill="none" stroke="#000" stroke-width="2.0" stroke-dasharray="5.3,2.9" stroke-linejoin="round"/>
<polyline points="31.00,327.17 32.52,340.97 38.58,387.70 46.15,398.75 68.88,407.24 106.75,407.88 182.50,403.63" fill="none" stroke="#000" stroke-width="2.0" stroke-dasharray="3,1.8" stroke-linejoin="round"/>
<polyline points="31.00,328.23 32.52,329.29 38.58,331.42 46.15,336.73 68.88,345.22 106.75,347.98 182.50,359.56" fill="none" stroke="#000" stroke-width="2.0" stroke-linejoin="round"/>
<polyline points="31.00,331.42 32.52,329.29 38.58,331.42 46.15,338.32 68.88,354.78 106.75,360.09 182.50,366.99" fill="none" stroke="#000" stroke-width="2.0" stroke-linejoin="round"/>
<circle cx="31.00" cy="331.42" r="2.05" fill="#fff" stroke="#000" stroke-width="1.25"/>
<circle cx="32.52" cy="329.29" r="2.05" fill="#fff" stroke="#000" stroke-width="1.25"/>
<circle cx="38.58" cy="331.42" r="2.05" fill="#fff" stroke="#000" stroke-width="1.25"/>
<circle cx="46.15" cy="338.32" r="2.05" fill="#fff" stroke="#000" stroke-width="1.25"/>
<circle cx="68.88" cy="354.78" r="2.05" fill="#fff" stroke="#000" stroke-width="1.25"/>
<circle cx="106.75" cy="360.09" r="2.05" fill="#fff" stroke="#000" stroke-width="1.25"/>
<circle cx="182.50" cy="366.99" r="2.05" fill="#fff" stroke="#000" stroke-width="1.25"/>
<polygon points="31.00,325.78 33.08,328.23 31.00,330.68 28.92,328.23" fill="#fff" stroke="#000" stroke-width="1.15"/><circle cx="31.00" cy="328.23" r="0.6" fill="#000"/>
<polygon points="32.52,326.84 34.60,329.29 32.52,331.74 30.43,329.29" fill="#fff" stroke="#000" stroke-width="1.15"/><circle cx="32.52" cy="329.29" r="0.6" fill="#000"/>
<polygon points="38.58,328.97 40.66,331.42 38.58,333.87 36.49,331.42" fill="#fff" stroke="#000" stroke-width="1.15"/><circle cx="38.58" cy="331.42" r="0.6" fill="#000"/>
<polygon points="46.15,334.28 48.23,336.73 46.15,339.18 44.07,336.73" fill="#fff" stroke="#000" stroke-width="1.15"/><circle cx="46.15" cy="336.73" r="0.6" fill="#000"/>
<polygon points="68.88,342.77 70.96,345.22 68.88,347.67 66.79,345.22" fill="#fff" stroke="#000" stroke-width="1.15"/><circle cx="68.88" cy="345.22" r="0.6" fill="#000"/>
<polygon points="106.75,345.53 108.83,347.98 106.75,350.43 104.67,347.98" fill="#fff" stroke="#000" stroke-width="1.15"/><circle cx="106.75" cy="347.98" r="0.6" fill="#000"/>
<polygon points="182.50,357.11 184.58,359.56 182.50,362.01 180.42,359.56" fill="#fff" stroke="#000" stroke-width="1.15"/><circle cx="182.50" cy="359.56" r="0.6" fill="#000"/>
<polygon points="31.00,330.17 34.00,324.77 28.00,324.77" fill="#000"/>
<polygon points="32.52,343.97 35.52,338.57 29.52,338.57" fill="#000"/>
<polygon points="38.58,390.70 41.58,385.30 35.58,385.30" fill="#000"/>
<polygon points="46.15,401.75 49.15,396.35 43.15,396.35" fill="#000"/>
<polygon points="68.88,410.24 71.88,404.84 65.88,404.84" fill="#000"/>
<polygon points="106.75,410.88 109.75,405.48 103.75,405.48" fill="#000"/>
<polygon points="182.50,406.63 185.50,401.23 179.50,401.23" fill="#000"/>
<polygon points="31.00,323.11 34.00,328.51 28.00,328.51" fill="#000"/>
<polygon points="32.52,325.23 35.52,330.63 29.52,330.63" fill="#000"/>
<polygon points="38.58,327.35 41.58,332.75 35.58,332.75" fill="#000"/>
<polygon points="46.15,331.60 49.15,337.00 43.15,337.00" fill="#000"/>
<polygon points="68.88,335.11 71.88,340.51 65.88,340.51" fill="#000"/>
<polygon points="106.75,335.85 109.75,341.25 103.75,341.25" fill="#000"/>
<polygon points="182.50,344.35 185.50,349.75 179.50,349.75" fill="#000"/>
<rect x="28.50" y="320.42" width="5.00" height="5.00" fill="#000"/>
<rect x="30.02" y="324.67" width="5.00" height="5.00" fill="#000"/>
<rect x="36.08" y="326.79" width="5.00" height="5.00" fill="#000"/>
<rect x="43.65" y="331.04" width="5.00" height="5.00" fill="#000"/>
<rect x="66.38" y="334.23" width="5.00" height="5.00" fill="#000"/>
<rect x="104.25" y="334.23" width="5.00" height="5.00" fill="#000"/>
<rect x="180.00" y="333.69" width="5.00" height="5.00" fill="#000"/>
<line x1="200.90" y1="319.30" x2="216.60" y2="319.30" stroke="#000" stroke-width="2.0"/>
<rect x="206.12" y="316.68" width="5.25" height="5.25" fill="#000"/>
<text x="218.60" y="322.30" class="lg">8226/S</text>
<line x1="200.90" y1="331.55" x2="215.10" y2="331.55" stroke="#000" stroke-width="2.0"/>
<polygon points="208.75,328.40 211.90,334.07 205.60,334.07" fill="#000"/>
<text x="218.60" y="334.55" class="lg">U266</text>
<line x1="200.90" y1="343.80" x2="203.30" y2="343.80" stroke="#000" stroke-width="2.0"/>
<line x1="204.90" y1="343.80" x2="212.60" y2="343.80" stroke="#000" stroke-width="2.0"/>
<line x1="214.40" y1="343.80" x2="216.60" y2="343.80" stroke="#000" stroke-width="2.0"/>
<polygon points="208.75,346.95 211.90,341.28 205.60,341.28" fill="#000"/>
<text x="218.60" y="346.80" class="lg">MM.1S</text>
<line x1="200.90" y1="356.05" x2="216.60" y2="356.05" stroke="#000" stroke-width="2.0"/>
<polygon points="208.75,353.48 210.94,356.05 208.75,358.62 206.56,356.05" fill="#fff" stroke="#000" stroke-width="1.15"/><circle cx="208.75" cy="356.05" r="0.6" fill="#000"/>
<text x="218.60" y="359.05" class="lg">KMS-11</text>
<line x1="200.90" y1="368.30" x2="216.60" y2="368.30" stroke="#000" stroke-width="2.0"/>
<circle cx="208.75" cy="368.30" r="2.15" fill="#fff" stroke="#000" stroke-width="1.25"/>
<text x="218.60" y="371.30" class="lg">KMS-18</text>
<line x1="300.00" y1="22.85" x2="300.00" y2="132.20" stroke="#000" stroke-width="1.8"/>
<line x1="299.25" y1="129.20" x2="460.00" y2="129.20" stroke="#000" stroke-width="1.8"/>
<line x1="296.80" y1="129.20" x2="300.00" y2="129.20" stroke="#000" stroke-width="1.2"/>
<text x="296.30" y="131.20" text-anchor="end" class="tk">0</text>
<line x1="296.80" y1="102.80" x2="300.00" y2="102.80" stroke="#000" stroke-width="1.2"/>
<text x="296.30" y="104.80" text-anchor="end" class="tk">25</text>
<line x1="296.80" y1="76.40" x2="300.00" y2="76.40" stroke="#000" stroke-width="1.2"/>
<text x="296.30" y="78.40" text-anchor="end" class="tk">50</text>
<line x1="296.80" y1="50.00" x2="300.00" y2="50.00" stroke="#000" stroke-width="1.2"/>
<text x="296.30" y="52.00" text-anchor="end" class="tk">75</text>
<line x1="296.80" y1="23.60" x2="300.00" y2="23.60" stroke="#000" stroke-width="1.2"/>
<text x="296.30" y="25.60" text-anchor="end" class="tk">100</text>
<line x1="300.00" y1="129.20" x2="300.00" y2="132.70" stroke="#000" stroke-width="1.2"/>
<text x="300.00" y="140.70" text-anchor="middle" class="tk">0</text>
<line x1="351.43" y1="129.20" x2="351.43" y2="132.70" stroke="#000" stroke-width="1.2"/>
<text x="351.43" y="140.70" text-anchor="middle" class="tk">10</text>
<line x1="402.87" y1="129.20" x2="402.87" y2="132.70" stroke="#000" stroke-width="1.2"/>
<text x="402.87" y="140.70" text-anchor="middle" class="tk">20</text>
<line x1="454.30" y1="129.20" x2="454.30" y2="132.70" stroke="#000" stroke-width="1.2"/>
<text x="454.30" y="140.70" text-anchor="middle" class="tk">30</text>
<text x="380.20" y="153.20" text-anchor="middle" class="ti">[EPOX] nM</text>
<text transform="translate(277.20,75.10) rotate(-90)" text-anchor="middle" class="yl">% Viability</text>
<line x1="300.00" y1="28.88" x2="300.00" y2="40.50" stroke="#000" stroke-width="1.3"/>
<line x1="297.20" y1="28.88" x2="302.80" y2="28.88" stroke="#000" stroke-width="1.2"/>
<line x1="297.20" y1="40.50" x2="302.80" y2="40.50" stroke="#000" stroke-width="1.2"/>
<line x1="305.14" y1="32.05" x2="305.14" y2="40.50" stroke="#000" stroke-width="1.3"/>
<line x1="302.34" y1="32.05" x2="307.94" y2="32.05" stroke="#000" stroke-width="1.2"/>
<line x1="302.34" y1="40.50" x2="307.94" y2="40.50" stroke="#000" stroke-width="1.2"/>
<line x1="325.72" y1="47.89" x2="325.72" y2="81.68" stroke="#000" stroke-width="1.3"/>
<line x1="322.92" y1="47.89" x2="328.52" y2="47.89" stroke="#000" stroke-width="1.2"/>
<line x1="322.92" y1="81.68" x2="328.52" y2="81.68" stroke="#000" stroke-width="1.2"/>
<line x1="351.43" y1="58.45" x2="351.43" y2="86.96" stroke="#000" stroke-width="1.3"/>
<line x1="348.63" y1="58.45" x2="354.23" y2="58.45" stroke="#000" stroke-width="1.2"/>
<line x1="348.63" y1="86.96" x2="354.23" y2="86.96" stroke="#000" stroke-width="1.2"/>
<line x1="428.58" y1="65.63" x2="428.58" y2="97.52" stroke="#000" stroke-width="1.3"/>
<line x1="425.78" y1="65.63" x2="431.38" y2="65.63" stroke="#000" stroke-width="1.2"/>
<line x1="425.78" y1="97.52" x2="431.38" y2="97.52" stroke="#000" stroke-width="1.2"/>
<line x1="454.30" y1="66.90" x2="454.30" y2="99.63" stroke="#000" stroke-width="1.3"/>
<line x1="451.50" y1="66.90" x2="457.10" y2="66.90" stroke="#000" stroke-width="1.2"/>
<line x1="451.50" y1="99.63" x2="457.10" y2="99.63" stroke="#000" stroke-width="1.2"/>
<line x1="325.72" y1="69.01" x2="325.72" y2="84.53" stroke="#000" stroke-width="1.3"/>
<line x1="322.92" y1="69.01" x2="328.52" y2="69.01" stroke="#000" stroke-width="1.2"/>
<line x1="322.92" y1="84.53" x2="328.52" y2="84.53" stroke="#000" stroke-width="1.2"/>
<line x1="351.43" y1="87.70" x2="351.43" y2="106.81" stroke="#000" stroke-width="1.3"/>
<line x1="348.63" y1="87.70" x2="354.23" y2="87.70" stroke="#000" stroke-width="1.2"/>
<line x1="348.63" y1="106.81" x2="354.23" y2="106.81" stroke="#000" stroke-width="1.2"/>
<line x1="428.58" y1="98.15" x2="428.58" y2="116.00" stroke="#000" stroke-width="1.3"/>
<line x1="425.78" y1="98.15" x2="431.38" y2="98.15" stroke="#000" stroke-width="1.2"/>
<line x1="425.78" y1="116.00" x2="431.38" y2="116.00" stroke="#000" stroke-width="1.2"/>
<line x1="454.30" y1="99.95" x2="454.30" y2="116.53" stroke="#000" stroke-width="1.3"/>
<line x1="451.50" y1="99.95" x2="457.10" y2="99.95" stroke="#000" stroke-width="1.2"/>
<line x1="451.50" y1="116.53" x2="457.10" y2="116.53" stroke="#000" stroke-width="1.2"/>
<line x1="305.14" y1="41.97" x2="305.14" y2="89.81" stroke="#000" stroke-width="1.3"/>
<line x1="302.34" y1="41.97" x2="307.94" y2="41.97" stroke="#000" stroke-width="1.2"/>
<line x1="302.34" y1="89.81" x2="307.94" y2="89.81" stroke="#000" stroke-width="1.2"/>
<line x1="325.72" y1="50.00" x2="325.72" y2="76.40" stroke="#000" stroke-width="1.3"/>
<line x1="322.92" y1="50.00" x2="328.52" y2="50.00" stroke="#000" stroke-width="1.2"/>
<line x1="322.92" y1="76.40" x2="328.52" y2="76.40" stroke="#000" stroke-width="1.2"/>
<line x1="351.43" y1="71.12" x2="351.43" y2="89.71" stroke="#000" stroke-width="1.3"/>
<line x1="348.63" y1="71.12" x2="354.23" y2="71.12" stroke="#000" stroke-width="1.2"/>
<line x1="348.63" y1="89.71" x2="354.23" y2="89.71" stroke="#000" stroke-width="1.2"/>
<line x1="428.58" y1="101.74" x2="428.58" y2="112.83" stroke="#000" stroke-width="1.3"/>
<line x1="425.78" y1="101.74" x2="431.38" y2="101.74" stroke="#000" stroke-width="1.2"/>
<line x1="425.78" y1="112.83" x2="431.38" y2="112.83" stroke="#000" stroke-width="1.2"/>
<line x1="325.72" y1="93.82" x2="325.72" y2="109.03" stroke="#000" stroke-width="1.3"/>
<line x1="322.92" y1="93.82" x2="328.52" y2="93.82" stroke="#000" stroke-width="1.2"/>
<line x1="322.92" y1="109.03" x2="328.52" y2="109.03" stroke="#000" stroke-width="1.2"/>
<line x1="351.43" y1="106.81" x2="351.43" y2="118.64" stroke="#000" stroke-width="1.3"/>
<line x1="348.63" y1="106.81" x2="354.23" y2="106.81" stroke="#000" stroke-width="1.2"/>
<line x1="348.63" y1="118.64" x2="354.23" y2="118.64" stroke="#000" stroke-width="1.2"/>
<line x1="428.58" y1="112.83" x2="428.58" y2="126.67" stroke="#000" stroke-width="1.3"/>
<line x1="425.78" y1="112.83" x2="431.38" y2="112.83" stroke="#000" stroke-width="1.2"/>
<line x1="425.78" y1="126.67" x2="431.38" y2="126.67" stroke="#000" stroke-width="1.2"/>
<line x1="300.00" y1="23.60" x2="300.00" y2="40.50" stroke="#000" stroke-width="1.3"/>
<line x1="297.20" y1="23.60" x2="302.80" y2="23.60" stroke="#000" stroke-width="1.2"/>
<line x1="297.20" y1="40.50" x2="302.80" y2="40.50" stroke="#000" stroke-width="1.2"/>
<polyline points="300.00,35.22 305.14,35.96 325.72,65.21 351.43,73.23 428.58,81.68 454.30,83.48" fill="none" stroke="#000" stroke-width="2.0" stroke-linejoin="round"/>
<polyline points="300.00,39.44 305.14,39.44 325.72,77.46 351.43,97.52 428.58,108.08 454.30,109.56" fill="none" stroke="#000" stroke-width="2.0" stroke-dasharray="5.3,2.9" stroke-linejoin="round"/>
<polyline points="300.00,38.38 305.14,65.21 325.72,121.28 351.43,123.39 428.58,122.02 454.30,122.02" fill="none" stroke="#000" stroke-width="2.0" stroke-dasharray="3,1.8" stroke-linejoin="round"/>
<polyline points="300.00,37.33 305.14,38.38 325.72,62.67 351.43,80.20 428.58,107.45 454.30,113.36" fill="none" stroke="#000" stroke-width="2.0" stroke-linejoin="round"/>
<polyline points="300.00,40.50 305.14,42.08 325.72,101.43 351.43,111.99 428.58,120.33 454.30,120.75" fill="none" stroke="#000" stroke-width="2.0" stroke-linejoin="round"/>
<circle cx="300.00" cy="40.50" r="2.05" fill="#fff" stroke="#000" stroke-width="1.25"/>
<circle cx="305.14" cy="42.08" r="2.05" fill="#fff" stroke="#000" stroke-width="1.25"/>
<circle cx="325.72" cy="101.43" r="2.05" fill="#fff" stroke="#000" stroke-width="1.25"/>
<circle cx="351.43" cy="111.99" r="2.05" fill="#fff" stroke="#000" stroke-width="1.25"/>
<circle cx="428.58" cy="120.33" r="2.05" fill="#fff" stroke="#000" stroke-width="1.25"/>
<circle cx="454.30" cy="120.75" r="2.05" fill="#fff" stroke="#000" stroke-width="1.25"/>
<polygon points="300.00,34.88 302.08,37.33 300.00,39.78 297.92,37.33" fill="#fff" stroke="#000" stroke-width="1.15"/><circle cx="300.00" cy="37.33" r="0.6" fill="#000"/>
<polygon points="305.14,35.93 307.23,38.38 305.14,40.83 303.06,38.38" fill="#fff" stroke="#000" stroke-width="1.15"/><circle cx="305.14" cy="38.38" r="0.6" fill="#000"/>
<polygon points="325.72,60.22 327.80,62.67 325.72,65.12 323.63,62.67" fill="#fff" stroke="#000" stroke-width="1.15"/><circle cx="325.72" cy="62.67" r="0.6" fill="#000"/>
<polygon points="351.43,77.75 353.52,80.20 351.43,82.65 349.35,80.20" fill="#fff" stroke="#000" stroke-width="1.15"/><circle cx="351.43" cy="80.20" r="0.6" fill="#000"/>
<polygon points="428.58,105.00 430.67,107.45 428.58,109.90 426.50,107.45" fill="#fff" stroke="#000" stroke-width="1.15"/><circle cx="428.58" cy="107.45" r="0.6" fill="#000"/>
<polygon points="454.30,110.91 456.38,113.36 454.30,115.81 452.22,113.36" fill="#fff" stroke="#000" stroke-width="1.15"/><circle cx="454.30" cy="113.36" r="0.6" fill="#000"/>
<polygon points="300.00,41.38 303.00,35.98 297.00,35.98" fill="#000"/>
<polygon points="305.14,68.21 308.14,62.81 302.14,62.81" fill="#000"/>
<polygon points="325.72,124.28 328.72,118.88 322.72,118.88" fill="#000"/>
<polygon points="351.43,126.39 354.43,120.99 348.43,120.99" fill="#000"/>
<polygon points="428.58,125.02 431.58,119.62 425.58,119.62" fill="#000"/>
<polygon points="454.30,125.02 457.30,119.62 451.30,119.62" fill="#000"/>
<polygon points="300.00,36.44 303.00,41.84 297.00,41.84" fill="#000"/>
<polygon points="305.14,36.44 308.14,41.84 302.14,41.84" fill="#000"/>
<polygon points="325.72,74.46 328.72,79.86 322.72,79.86" fill="#000"/>
<polygon points="351.43,94.52 354.43,99.92 348.43,99.92" fill="#000"/>
<polygon points="428.58,105.08 431.58,110.48 425.58,110.48" fill="#000"/>
<polygon points="454.30,106.56 457.30,111.96 451.30,111.96" fill="#000"/>
<rect x="297.50" y="32.72" width="5.00" height="5.00" fill="#000"/>
<rect x="302.64" y="33.46" width="5.00" height="5.00" fill="#000"/>
<rect x="323.22" y="62.71" width="5.00" height="5.00" fill="#000"/>
<rect x="348.93" y="70.73" width="5.00" height="5.00" fill="#000"/>
<rect x="426.08" y="79.18" width="5.00" height="5.00" fill="#000"/>
<rect x="451.80" y="80.98" width="5.00" height="5.00" fill="#000"/>
<line x1="470.50" y1="29.60" x2="486.20" y2="29.60" stroke="#000" stroke-width="2.0"/>
<rect x="475.73" y="26.98" width="5.25" height="5.25" fill="#000"/>
<text x="487.90" y="32.60" class="lg">8226/S</text>
<line x1="470.50" y1="41.70" x2="484.70" y2="41.70" stroke="#000" stroke-width="2.0"/>
<polygon points="478.35,38.55 481.50,44.22 475.20,44.22" fill="#000"/>
<text x="487.90" y="44.70" class="lg">U266</text>
<line x1="470.50" y1="53.80" x2="472.90" y2="53.80" stroke="#000" stroke-width="2.0"/>
<line x1="474.50" y1="53.80" x2="482.20" y2="53.80" stroke="#000" stroke-width="2.0"/>
<line x1="484.00" y1="53.80" x2="486.20" y2="53.80" stroke="#000" stroke-width="2.0"/>
<polygon points="478.35,56.95 481.50,51.28 475.20,51.28" fill="#000"/>
<text x="487.90" y="56.80" class="lg">MM.1S</text>
<line x1="470.50" y1="65.90" x2="486.20" y2="65.90" stroke="#000" stroke-width="2.0"/>
<polygon points="478.35,63.33 480.54,65.90 478.35,68.47 476.16,65.90" fill="#fff" stroke="#000" stroke-width="1.15"/><circle cx="478.35" cy="65.90" r="0.6" fill="#000"/>
<text x="487.90" y="68.90" class="lg">KMS-11</text>
<line x1="470.50" y1="78.00" x2="486.20" y2="78.00" stroke="#000" stroke-width="2.0"/>
<circle cx="478.35" cy="78.00" r="2.15" fill="#fff" stroke="#000" stroke-width="1.25"/>
<text x="487.90" y="81.00" class="lg">KMS-18</text>
<line x1="300.00" y1="172.75" x2="300.00" y2="282.60" stroke="#000" stroke-width="1.8"/>
<line x1="299.25" y1="279.60" x2="460.50" y2="279.60" stroke="#000" stroke-width="1.8"/>
<line x1="296.80" y1="279.60" x2="300.00" y2="279.60" stroke="#000" stroke-width="1.2"/>
<text x="296.30" y="281.60" text-anchor="end" class="tk">0</text>
<line x1="296.80" y1="253.08" x2="300.00" y2="253.08" stroke="#000" stroke-width="1.2"/>
<text x="296.30" y="255.08" text-anchor="end" class="tk">25</text>
<line x1="296.80" y1="226.55" x2="300.00" y2="226.55" stroke="#000" stroke-width="1.2"/>
<text x="296.30" y="228.55" text-anchor="end" class="tk">50</text>
<line x1="296.80" y1="200.03" x2="300.00" y2="200.03" stroke="#000" stroke-width="1.2"/>
<text x="296.30" y="202.03" text-anchor="end" class="tk">75</text>
<line x1="296.80" y1="173.50" x2="300.00" y2="173.50" stroke="#000" stroke-width="1.2"/>
<text x="296.30" y="175.50" text-anchor="end" class="tk">100</text>
<line x1="300.00" y1="279.60" x2="300.00" y2="283.10" stroke="#000" stroke-width="1.2"/>
<text x="300.00" y="291.10" text-anchor="middle" class="tk">0</text>
<line x1="351.50" y1="279.60" x2="351.50" y2="283.10" stroke="#000" stroke-width="1.2"/>
<text x="351.50" y="291.10" text-anchor="middle" class="tk">5</text>
<line x1="403.00" y1="279.60" x2="403.00" y2="283.10" stroke="#000" stroke-width="1.2"/>
<text x="403.00" y="291.10" text-anchor="middle" class="tk">10</text>
<line x1="454.50" y1="279.60" x2="454.50" y2="283.10" stroke="#000" stroke-width="1.2"/>
<text x="454.50" y="291.10" text-anchor="middle" class="tk">15</text>
<text x="380.00" y="303.60" text-anchor="middle" class="ti">[PSI] nM</text>
<text transform="translate(277.40,223.95) rotate(-90)" text-anchor="middle" class="yl">% Viability</text>
<line x1="351.50" y1="198.75" x2="351.50" y2="210.95" stroke="#000" stroke-width="1.3"/>
<line x1="348.70" y1="198.75" x2="354.30" y2="198.75" stroke="#000" stroke-width="1.2"/>
<line x1="348.70" y1="210.95" x2="354.30" y2="210.95" stroke="#000" stroke-width="1.2"/>
<line x1="377.25" y1="208.51" x2="377.25" y2="220.18" stroke="#000" stroke-width="1.3"/>
<line x1="374.45" y1="208.51" x2="380.05" y2="208.51" stroke="#000" stroke-width="1.2"/>
<line x1="374.45" y1="220.18" x2="380.05" y2="220.18" stroke="#000" stroke-width="1.2"/>
<line x1="403.00" y1="208.51" x2="403.00" y2="223.37" stroke="#000" stroke-width="1.3"/>
<line x1="400.20" y1="208.51" x2="405.80" y2="208.51" stroke="#000" stroke-width="1.2"/>
<line x1="400.20" y1="223.37" x2="405.80" y2="223.37" stroke="#000" stroke-width="1.2"/>
<line x1="454.50" y1="211.70" x2="454.50" y2="232.92" stroke="#000" stroke-width="1.3"/>
<line x1="451.70" y1="211.70" x2="457.30" y2="211.70" stroke="#000" stroke-width="1.2"/>
<line x1="451.70" y1="232.92" x2="457.30" y2="232.92" stroke="#000" stroke-width="1.2"/>
<line x1="310.30" y1="192.07" x2="310.30" y2="243.95" stroke="#000" stroke-width="1.3"/>
<line x1="307.50" y1="192.07" x2="313.10" y2="192.07" stroke="#000" stroke-width="1.2"/>
<line x1="307.50" y1="243.95" x2="313.10" y2="243.95" stroke="#000" stroke-width="1.2"/>
<line x1="377.25" y1="266.87" x2="377.25" y2="276.42" stroke="#000" stroke-width="1.3"/>
<line x1="374.45" y1="266.87" x2="380.05" y2="266.87" stroke="#000" stroke-width="1.2"/>
<line x1="374.45" y1="276.42" x2="380.05" y2="276.42" stroke="#000" stroke-width="1.2"/>
<line x1="403.00" y1="266.87" x2="403.00" y2="276.42" stroke="#000" stroke-width="1.3"/>
<line x1="400.20" y1="266.87" x2="405.80" y2="266.87" stroke="#000" stroke-width="1.2"/>
<line x1="400.20" y1="276.42" x2="405.80" y2="276.42" stroke="#000" stroke-width="1.2"/>
<line x1="454.50" y1="261.56" x2="454.50" y2="277.48" stroke="#000" stroke-width="1.3"/>
<line x1="451.70" y1="261.56" x2="457.30" y2="261.56" stroke="#000" stroke-width="1.2"/>
<line x1="451.70" y1="277.48" x2="457.30" y2="277.48" stroke="#000" stroke-width="1.2"/>
<line x1="351.50" y1="224.00" x2="351.50" y2="248.83" stroke="#000" stroke-width="1.3"/>
<line x1="348.70" y1="224.00" x2="354.30" y2="224.00" stroke="#000" stroke-width="1.2"/>
<line x1="348.70" y1="248.83" x2="354.30" y2="248.83" stroke="#000" stroke-width="1.2"/>
<line x1="377.25" y1="232.92" x2="377.25" y2="258.38" stroke="#000" stroke-width="1.3"/>
<line x1="374.45" y1="232.92" x2="380.05" y2="232.92" stroke="#000" stroke-width="1.2"/>
<line x1="374.45" y1="258.38" x2="380.05" y2="258.38" stroke="#000" stroke-width="1.2"/>
<line x1="403.00" y1="235.04" x2="403.00" y2="259.44" stroke="#000" stroke-width="1.3"/>
<line x1="400.20" y1="235.04" x2="405.80" y2="235.04" stroke="#000" stroke-width="1.2"/>
<line x1="400.20" y1="259.44" x2="405.80" y2="259.44" stroke="#000" stroke-width="1.2"/>
<line x1="454.50" y1="240.34" x2="454.50" y2="264.75" stroke="#000" stroke-width="1.3"/>
<line x1="451.70" y1="240.34" x2="457.30" y2="240.34" stroke="#000" stroke-width="1.2"/>
<line x1="451.70" y1="264.75" x2="457.30" y2="264.75" stroke="#000" stroke-width="1.2"/>
<line x1="300.00" y1="173.82" x2="300.00" y2="196.84" stroke="#000" stroke-width="1.3"/>
<line x1="297.20" y1="173.82" x2="302.80" y2="173.82" stroke="#000" stroke-width="1.2"/>
<line x1="297.20" y1="196.84" x2="302.80" y2="196.84" stroke="#000" stroke-width="1.2"/>
<line x1="304.63" y1="180.93" x2="304.63" y2="211.70" stroke="#000" stroke-width="1.3"/>
<line x1="301.83" y1="180.93" x2="307.44" y2="180.93" stroke="#000" stroke-width="1.2"/>
<line x1="301.83" y1="211.70" x2="307.44" y2="211.70" stroke="#000" stroke-width="1.2"/>
<line x1="310.30" y1="177.74" x2="310.30" y2="189.42" stroke="#000" stroke-width="1.3"/>
<line x1="307.50" y1="177.74" x2="313.10" y2="177.74" stroke="#000" stroke-width="1.2"/>
<line x1="307.50" y1="189.42" x2="313.10" y2="189.42" stroke="#000" stroke-width="1.2"/>
<polyline points="300.00,184.11 310.30,188.35 351.50,202.89 377.25,214.14 403.00,216.58 454.50,222.09" fill="none" stroke="#000" stroke-width="2.0" stroke-linejoin="round"/>
<polyline points="300.00,186.23 310.30,194.72 351.50,235.57 377.25,243.53 403.00,246.71 454.50,250.95" fill="none" stroke="#000" stroke-width="2.0" stroke-dasharray="5.3,2.9" stroke-linejoin="round"/>
<polyline points="300.00,188.35 310.30,208.73 351.50,270.58 377.25,271.64 403.00,271.64 454.50,270.58" fill="none" stroke="#000" stroke-width="2.0" stroke-dasharray="3,1.8" stroke-linejoin="round"/>
<polyline points="300.00,190.48 310.30,189.95 351.50,205.75 377.25,214.88 403.00,217.00 454.50,221.78" fill="none" stroke="#000" stroke-width="2.0" stroke-linejoin="round"/>
<polyline points="300.00,192.60 310.30,189.95 351.50,236.63 377.25,244.59 403.00,248.30 454.50,253.08" fill="none" stroke="#000" stroke-width="2.0" stroke-linejoin="round"/>
<circle cx="300.00" cy="192.60" r="2.05" fill="#fff" stroke="#000" stroke-width="1.25"/>
<circle cx="310.30" cy="189.95" r="2.05" fill="#fff" stroke="#000" stroke-width="1.25"/>
<circle cx="351.50" cy="236.63" r="2.05" fill="#fff" stroke="#000" stroke-width="1.25"/>
<circle cx="377.25" cy="244.59" r="2.05" fill="#fff" stroke="#000" stroke-width="1.25"/>
<circle cx="403.00" cy="248.30" r="2.05" fill="#fff" stroke="#000" stroke-width="1.25"/>
<circle cx="454.50" cy="253.08" r="2.05" fill="#fff" stroke="#000" stroke-width="1.25"/>
<polygon points="300.00,188.03 302.08,190.48 300.00,192.93 297.92,190.48" fill="#fff" stroke="#000" stroke-width="1.15"/><circle cx="300.00" cy="190.48" r="0.6" fill="#000"/>
<polygon points="310.30,187.50 312.38,189.95 310.30,192.40 308.22,189.95" fill="#fff" stroke="#000" stroke-width="1.15"/><circle cx="310.30" cy="189.95" r="0.6" fill="#000"/>
<polygon points="351.50,203.30 353.58,205.75 351.50,208.20 349.42,205.75" fill="#fff" stroke="#000" stroke-width="1.15"/><circle cx="351.50" cy="205.75" r="0.6" fill="#000"/>
<polygon points="377.25,212.43 379.33,214.88 377.25,217.33 375.17,214.88" fill="#fff" stroke="#000" stroke-width="1.15"/><circle cx="377.25" cy="214.88" r="0.6" fill="#000"/>
<polygon points="403.00,214.55 405.08,217.00 403.00,219.45 400.92,217.00" fill="#fff" stroke="#000" stroke-width="1.15"/><circle cx="403.00" cy="217.00" r="0.6" fill="#000"/>
<polygon points="454.50,219.33 456.58,221.78 454.50,224.23 452.42,221.78" fill="#fff" stroke="#000" stroke-width="1.15"/><circle cx="454.50" cy="221.78" r="0.6" fill="#000"/>
<polygon points="300.00,191.35 303.00,185.95 297.00,185.95" fill="#000"/>
<polygon points="310.30,211.73 313.30,206.33 307.30,206.33" fill="#000"/>
<polygon points="351.50,273.58 354.50,268.18 348.50,268.18" fill="#000"/>
<polygon points="377.25,274.64 380.25,269.24 374.25,269.24" fill="#000"/>
<polygon points="403.00,274.64 406.00,269.24 400.00,269.24" fill="#000"/>
<polygon points="454.50,273.58 457.50,268.18 451.50,268.18" fill="#000"/>
<polygon points="300.00,183.23 303.00,188.63 297.00,188.63" fill="#000"/>
<polygon points="310.30,191.72 313.30,197.12 307.30,197.12" fill="#000"/>
<polygon points="351.50,232.57 354.50,237.97 348.50,237.97" fill="#000"/>
<polygon points="377.25,240.53 380.25,245.93 374.25,245.93" fill="#000"/>
<polygon points="403.00,243.71 406.00,249.11 400.00,249.11" fill="#000"/>
<polygon points="454.50,247.95 457.50,253.35 451.50,253.35" fill="#000"/>
<rect x="297.50" y="181.61" width="5.00" height="5.00" fill="#000"/>
<rect x="307.80" y="185.85" width="5.00" height="5.00" fill="#000"/>
<rect x="349.00" y="200.39" width="5.00" height="5.00" fill="#000"/>
<rect x="374.75" y="211.64" width="5.00" height="5.00" fill="#000"/>
<rect x="400.50" y="214.08" width="5.00" height="5.00" fill="#000"/>
<rect x="452.00" y="219.59" width="5.00" height="5.00" fill="#000"/>
<line x1="470.50" y1="181.50" x2="486.20" y2="181.50" stroke="#000" stroke-width="2.0"/>
<rect x="475.73" y="178.88" width="5.25" height="5.25" fill="#000"/>
<text x="487.90" y="184.50" class="lg">8226/S</text>
<line x1="470.50" y1="193.50" x2="484.70" y2="193.50" stroke="#000" stroke-width="2.0"/>
<polygon points="478.35,190.35 481.50,196.02 475.20,196.02" fill="#000"/>
<text x="487.90" y="196.50" class="lg">U266</text>
<line x1="470.50" y1="205.50" x2="472.90" y2="205.50" stroke="#000" stroke-width="2.0"/>
<line x1="474.50" y1="205.50" x2="482.20" y2="205.50" stroke="#000" stroke-width="2.0"/>
<line x1="484.00" y1="205.50" x2="486.20" y2="205.50" stroke="#000" stroke-width="2.0"/>
<polygon points="478.35,208.65 481.50,202.98 475.20,202.98" fill="#000"/>
<text x="487.90" y="208.50" class="lg">MM.1S</text>
<line x1="470.50" y1="217.50" x2="486.20" y2="217.50" stroke="#000" stroke-width="2.0"/>
<polygon points="478.35,214.93 480.54,217.50 478.35,220.07 476.16,217.50" fill="#fff" stroke="#000" stroke-width="1.15"/><circle cx="478.35" cy="217.50" r="0.6" fill="#000"/>
<text x="487.90" y="220.50" class="lg">KMS-11</text>
<line x1="470.50" y1="229.50" x2="486.20" y2="229.50" stroke="#000" stroke-width="2.0"/>
<circle cx="478.35" cy="229.50" r="2.15" fill="#fff" stroke="#000" stroke-width="1.25"/>
<text x="487.90" y="232.50" class="lg">KMS-18</text>
<line x1="300.00" y1="311.65" x2="300.00" y2="421.70" stroke="#000" stroke-width="1.8"/>
<line x1="299.25" y1="418.70" x2="460.10" y2="418.70" stroke="#000" stroke-width="1.8"/>
<line x1="296.80" y1="418.70" x2="300.00" y2="418.70" stroke="#000" stroke-width="1.2"/>
<text x="296.30" y="420.70" text-anchor="end" class="tk">0</text>
<line x1="296.80" y1="392.12" x2="300.00" y2="392.12" stroke="#000" stroke-width="1.2"/>
<text x="296.30" y="394.12" text-anchor="end" class="tk">25</text>
<line x1="296.80" y1="365.55" x2="300.00" y2="365.55" stroke="#000" stroke-width="1.2"/>
<text x="296.30" y="367.55" text-anchor="end" class="tk">50</text>
<line x1="296.80" y1="338.97" x2="300.00" y2="338.97" stroke="#000" stroke-width="1.2"/>
<text x="296.30" y="340.97" text-anchor="end" class="tk">75</text>
<line x1="296.80" y1="312.40" x2="300.00" y2="312.40" stroke="#000" stroke-width="1.2"/>
<text x="296.30" y="314.40" text-anchor="end" class="tk">100</text>
<line x1="300.00" y1="418.70" x2="300.00" y2="422.20" stroke="#000" stroke-width="1.2"/>
<text x="300.00" y="430.20" text-anchor="middle" class="tk">0</text>
<line x1="338.00" y1="418.70" x2="338.00" y2="422.20" stroke="#000" stroke-width="1.2"/>
<text x="338.00" y="430.20" text-anchor="middle" class="tk">25</text>
<line x1="376.00" y1="418.70" x2="376.00" y2="422.20" stroke="#000" stroke-width="1.2"/>
<text x="376.00" y="430.20" text-anchor="middle" class="tk">50</text>
<line x1="414.00" y1="418.70" x2="414.00" y2="422.20" stroke="#000" stroke-width="1.2"/>
<text x="414.00" y="430.20" text-anchor="middle" class="tk">75</text>
<line x1="452.00" y1="418.70" x2="452.00" y2="422.20" stroke="#000" stroke-width="1.2"/>
<text x="452.00" y="430.20" text-anchor="middle" class="tk">100</text>
<text x="380.60" y="443.20" text-anchor="middle" class="ti">[BZ] nM</text>
<text transform="translate(277.40,364.75) rotate(-90)" text-anchor="middle" class="yl">% Viability</text>
<line x1="338.00" y1="351.73" x2="338.00" y2="383.62" stroke="#000" stroke-width="1.3"/>
<line x1="335.20" y1="351.73" x2="340.80" y2="351.73" stroke="#000" stroke-width="1.2"/>
<line x1="335.20" y1="383.62" x2="340.80" y2="383.62" stroke="#000" stroke-width="1.2"/>
<line x1="376.00" y1="352.48" x2="376.00" y2="383.62" stroke="#000" stroke-width="1.3"/>
<line x1="373.20" y1="352.48" x2="378.80" y2="352.48" stroke="#000" stroke-width="1.2"/>
<line x1="373.20" y1="383.62" x2="378.80" y2="383.62" stroke="#000" stroke-width="1.2"/>
<line x1="452.00" y1="354.28" x2="452.00" y2="384.37" stroke="#000" stroke-width="1.3"/>
<line x1="449.20" y1="354.28" x2="454.80" y2="354.28" stroke="#000" stroke-width="1.2"/>
<line x1="449.20" y1="384.37" x2="454.80" y2="384.37" stroke="#000" stroke-width="1.2"/>
<line x1="315.20" y1="366.08" x2="315.20" y2="395.95" stroke="#000" stroke-width="1.3"/>
<line x1="312.40" y1="366.08" x2="318.00" y2="366.08" stroke="#000" stroke-width="1.2"/>
<line x1="312.40" y1="395.95" x2="318.00" y2="395.95" stroke="#000" stroke-width="1.2"/>
<line x1="338.00" y1="383.62" x2="338.00" y2="397.44" stroke="#000" stroke-width="1.3"/>
<line x1="335.20" y1="383.62" x2="340.80" y2="383.62" stroke="#000" stroke-width="1.2"/>
<line x1="335.20" y1="397.44" x2="340.80" y2="397.44" stroke="#000" stroke-width="1.2"/>
<line x1="376.00" y1="387.87" x2="376.00" y2="402.75" stroke="#000" stroke-width="1.3"/>
<line x1="373.20" y1="387.87" x2="378.80" y2="387.87" stroke="#000" stroke-width="1.2"/>
<line x1="373.20" y1="402.75" x2="378.80" y2="402.75" stroke="#000" stroke-width="1.2"/>
<line x1="452.00" y1="390.00" x2="452.00" y2="402.75" stroke="#000" stroke-width="1.3"/>
<line x1="449.20" y1="390.00" x2="454.80" y2="390.00" stroke="#000" stroke-width="1.2"/>
<line x1="449.20" y1="402.75" x2="454.80" y2="402.75" stroke="#000" stroke-width="1.2"/>
<line x1="307.60" y1="406.69" x2="307.60" y2="413.92" stroke="#000" stroke-width="1.3"/>
<line x1="304.80" y1="406.69" x2="310.40" y2="406.69" stroke="#000" stroke-width="1.2"/>
<line x1="304.80" y1="413.92" x2="310.40" y2="413.92" stroke="#000" stroke-width="1.2"/>
<line x1="315.20" y1="408.60" x2="315.20" y2="415.51" stroke="#000" stroke-width="1.3"/>
<line x1="312.40" y1="408.60" x2="318.00" y2="408.60" stroke="#000" stroke-width="1.2"/>
<line x1="312.40" y1="415.51" x2="318.00" y2="415.51" stroke="#000" stroke-width="1.2"/>
<line x1="338.00" y1="407.01" x2="338.00" y2="414.45" stroke="#000" stroke-width="1.3"/>
<line x1="335.20" y1="407.01" x2="340.80" y2="407.01" stroke="#000" stroke-width="1.2"/>
<line x1="335.20" y1="414.45" x2="340.80" y2="414.45" stroke="#000" stroke-width="1.2"/>
<line x1="376.00" y1="409.13" x2="376.00" y2="415.51" stroke="#000" stroke-width="1.3"/>
<line x1="373.20" y1="409.13" x2="378.80" y2="409.13" stroke="#000" stroke-width="1.2"/>
<line x1="373.20" y1="415.51" x2="378.80" y2="415.51" stroke="#000" stroke-width="1.2"/>
<line x1="452.00" y1="407.01" x2="452.00" y2="415.51" stroke="#000" stroke-width="1.3"/>
<line x1="449.20" y1="407.01" x2="454.80" y2="407.01" stroke="#000" stroke-width="1.2"/>
<line x1="449.20" y1="415.51" x2="454.80" y2="415.51" stroke="#000" stroke-width="1.2"/>
<line x1="338.00" y1="374.05" x2="338.00" y2="387.87" stroke="#000" stroke-width="1.3"/>
<line x1="335.20" y1="374.05" x2="340.80" y2="374.05" stroke="#000" stroke-width="1.2"/>
<line x1="335.20" y1="387.87" x2="340.80" y2="387.87" stroke="#000" stroke-width="1.2"/>
<line x1="376.00" y1="380.43" x2="376.00" y2="395.31" stroke="#000" stroke-width="1.3"/>
<line x1="373.20" y1="380.43" x2="378.80" y2="380.43" stroke="#000" stroke-width="1.2"/>
<line x1="373.20" y1="395.31" x2="378.80" y2="395.31" stroke="#000" stroke-width="1.2"/>
<line x1="338.00" y1="395.31" x2="338.00" y2="405.94" stroke="#000" stroke-width="1.3"/>
<line x1="335.20" y1="395.31" x2="340.80" y2="395.31" stroke="#000" stroke-width="1.2"/>
<line x1="335.20" y1="405.94" x2="340.80" y2="405.94" stroke="#000" stroke-width="1.2"/>
<line x1="376.00" y1="399.57" x2="376.00" y2="409.13" stroke="#000" stroke-width="1.3"/>
<line x1="373.20" y1="399.57" x2="378.80" y2="399.57" stroke="#000" stroke-width="1.2"/>
<line x1="373.20" y1="409.13" x2="378.80" y2="409.13" stroke="#000" stroke-width="1.2"/>
<line x1="452.00" y1="402.75" x2="452.00" y2="411.26" stroke="#000" stroke-width="1.3"/>
<line x1="449.20" y1="402.75" x2="454.80" y2="402.75" stroke="#000" stroke-width="1.2"/>
<line x1="449.20" y1="411.26" x2="454.80" y2="411.26" stroke="#000" stroke-width="1.2"/>
<line x1="300.00" y1="312.40" x2="300.00" y2="338.97" stroke="#000" stroke-width="1.3"/>
<line x1="297.20" y1="312.40" x2="302.80" y2="312.40" stroke="#000" stroke-width="1.2"/>
<line x1="297.20" y1="338.97" x2="302.80" y2="338.97" stroke="#000" stroke-width="1.2"/>
<line x1="307.60" y1="328.34" x2="307.60" y2="343.23" stroke="#000" stroke-width="1.3"/>
<line x1="304.80" y1="328.34" x2="310.40" y2="328.34" stroke="#000" stroke-width="1.2"/>
<line x1="304.80" y1="343.23" x2="310.40" y2="343.23" stroke="#000" stroke-width="1.2"/>
<line x1="305.32" y1="350.67" x2="305.32" y2="383.62" stroke="#000" stroke-width="1.3"/>
<line x1="302.52" y1="350.67" x2="308.12" y2="350.67" stroke="#000" stroke-width="1.2"/>
<line x1="302.52" y1="383.62" x2="308.12" y2="383.62" stroke="#000" stroke-width="1.2"/>
<line x1="315.20" y1="340.04" x2="315.20" y2="400.42" stroke="#000" stroke-width="1.3"/>
<line x1="312.40" y1="340.04" x2="318.00" y2="340.04" stroke="#000" stroke-width="1.2"/>
<line x1="312.40" y1="400.42" x2="318.00" y2="400.42" stroke="#000" stroke-width="1.2"/>
<polyline points="300.00,325.16 301.52,327.28 307.60,336.85 315.20,358.11 338.00,364.17 376.00,366.19 452.00,369.38" fill="none" stroke="#000" stroke-width="2.0" stroke-linejoin="round"/>
<polyline points="300.00,328.34 301.52,329.41 307.60,337.91 315.20,381.50 338.00,390.64 376.00,395.85 452.00,396.38" fill="none" stroke="#000" stroke-width="2.0" stroke-dasharray="5.3,2.9" stroke-linejoin="round"/>
<polyline points="300.00,327.28 301.52,338.97 307.60,409.45 315.20,412.00 338.00,410.94 376.00,412.22 452.00,410.94" fill="none" stroke="#000" stroke-width="2.0" stroke-dasharray="3,1.8" stroke-linejoin="round"/>
<polyline points="300.00,326.22 301.52,329.41 307.60,335.79 315.20,353.86 338.00,380.96 376.00,388.83 452.00,396.59" fill="none" stroke="#000" stroke-width="2.0" stroke-linejoin="round"/>
<polyline points="300.00,329.41 301.52,331.53 307.60,338.97 315.20,381.50 338.00,399.99 376.00,404.35 452.00,407.01" fill="none" stroke="#000" stroke-width="2.0" stroke-linejoin="round"/>
<circle cx="300.00" cy="329.41" r="2.05" fill="#fff" stroke="#000" stroke-width="1.25"/>
<circle cx="301.52" cy="331.53" r="2.05" fill="#fff" stroke="#000" stroke-width="1.25"/>
<circle cx="307.60" cy="338.97" r="2.05" fill="#fff" stroke="#000" stroke-width="1.25"/>
<circle cx="315.20" cy="381.50" r="2.05" fill="#fff" stroke="#000" stroke-width="1.25"/>
<circle cx="338.00" cy="399.99" r="2.05" fill="#fff" stroke="#000" stroke-width="1.25"/>
<circle cx="376.00" cy="404.35" r="2.05" fill="#fff" stroke="#000" stroke-width="1.25"/>
<circle cx="452.00" cy="407.01" r="2.05" fill="#fff" stroke="#000" stroke-width="1.25"/>
<polygon points="300.00,323.77 302.08,326.22 300.00,328.67 297.92,326.22" fill="#fff" stroke="#000" stroke-width="1.15"/><circle cx="300.00" cy="326.22" r="0.6" fill="#000"/>
<polygon points="301.52,326.96 303.60,329.41 301.52,331.86 299.44,329.41" fill="#fff" stroke="#000" stroke-width="1.15"/><circle cx="301.52" cy="329.41" r="0.6" fill="#000"/>
<polygon points="307.60,333.34 309.68,335.79 307.60,338.24 305.52,335.79" fill="#fff" stroke="#000" stroke-width="1.15"/><circle cx="307.60" cy="335.79" r="0.6" fill="#000"/>
<polygon points="315.20,351.41 317.28,353.86 315.20,356.31 313.12,353.86" fill="#fff" stroke="#000" stroke-width="1.15"/><circle cx="315.20" cy="353.86" r="0.6" fill="#000"/>
<polygon points="338.00,378.51 340.08,380.96 338.00,383.41 335.92,380.96" fill="#fff" stroke="#000" stroke-width="1.15"/><circle cx="338.00" cy="380.96" r="0.6" fill="#000"/>
<polygon points="376.00,386.38 378.08,388.83 376.00,391.28 373.92,388.83" fill="#fff" stroke="#000" stroke-width="1.15"/><circle cx="376.00" cy="388.83" r="0.6" fill="#000"/>
<polygon points="452.00,394.14 454.08,396.59 452.00,399.04 449.92,396.59" fill="#fff" stroke="#000" stroke-width="1.15"/><circle cx="452.00" cy="396.59" r="0.6" fill="#000"/>
<polygon points="300.00,330.28 303.00,324.88 297.00,324.88" fill="#000"/>
<polygon points="301.52,341.97 304.52,336.57 298.52,336.57" fill="#000"/>
<polygon points="307.60,412.45 310.60,407.05 304.60,407.05" fill="#000"/>
<polygon points="315.20,415.00 318.20,409.60 312.20,409.60" fill="#000"/>
<polygon points="338.00,413.94 341.00,408.54 335.00,408.54" fill="#000"/>
<polygon points="376.00,415.22 379.00,409.82 373.00,409.82" fill="#000"/>
<polygon points="452.00,413.94 455.00,408.54 449.00,408.54" fill="#000"/>
<polygon points="300.00,325.34 303.00,330.74 297.00,330.74" fill="#000"/>
<polygon points="301.52,326.41 304.52,331.81 298.52,331.81" fill="#000"/>
<polygon points="307.60,334.91 310.60,340.31 304.60,340.31" fill="#000"/>
<polygon points="315.20,378.50 318.20,383.89 312.20,383.89" fill="#000"/>
<polygon points="338.00,387.64 341.00,393.04 335.00,393.04" fill="#000"/>
<polygon points="376.00,392.85 379.00,398.25 373.00,398.25" fill="#000"/>
<polygon points="452.00,393.38 455.00,398.78 449.00,398.78" fill="#000"/>
<rect x="297.50" y="322.66" width="5.00" height="5.00" fill="#000"/>
<rect x="299.02" y="324.78" width="5.00" height="5.00" fill="#000"/>
<rect x="305.10" y="334.35" width="5.00" height="5.00" fill="#000"/>
<rect x="312.70" y="355.61" width="5.00" height="5.00" fill="#000"/>
<rect x="335.50" y="361.67" width="5.00" height="5.00" fill="#000"/>
<rect x="373.50" y="363.69" width="5.00" height="5.00" fill="#000"/>
<rect x="449.50" y="366.88" width="5.00" height="5.00" fill="#000"/>
<line x1="470.50" y1="319.80" x2="486.20" y2="319.80" stroke="#000" stroke-width="2.0"/>
<rect x="475.73" y="317.18" width="5.25" height="5.25" fill="#000"/>
<text x="487.90" y="322.80" class="lg">8226/S</text>
<line x1="470.50" y1="331.90" x2="484.70" y2="331.90" stroke="#000" stroke-width="2.0"/>
<polygon points="478.35,328.75 481.50,334.42 475.20,334.42" fill="#000"/>
<text x="487.90" y="334.90" class="lg">U266</text>
<line x1="470.50" y1="344.00" x2="472.90" y2="344.00" stroke="#000" stroke-width="2.0"/>
<line x1="474.50" y1="344.00" x2="482.20" y2="344.00" stroke="#000" stroke-width="2.0"/>
<line x1="484.00" y1="344.00" x2="486.20" y2="344.00" stroke="#000" stroke-width="2.0"/>
<polygon points="478.35,347.15 481.50,341.48 475.20,341.48" fill="#000"/>
<text x="487.90" y="347.00" class="lg">MM.1S</text>
<line x1="470.50" y1="356.10" x2="486.20" y2="356.10" stroke="#000" stroke-width="2.0"/>
<polygon points="478.35,353.53 480.54,356.10 478.35,358.67 476.16,356.10" fill="#fff" stroke="#000" stroke-width="1.15"/><circle cx="478.35" cy="356.10" r="0.6" fill="#000"/>
<text x="487.90" y="359.10" class="lg">KMS-11</text>
<line x1="470.50" y1="368.20" x2="486.20" y2="368.20" stroke="#000" stroke-width="2.0"/>
<circle cx="478.35" cy="368.20" r="2.15" fill="#fff" stroke="#000" stroke-width="1.25"/>
<text x="487.90" y="371.20" class="lg">KMS-18</text>
</svg>
</body></html>
